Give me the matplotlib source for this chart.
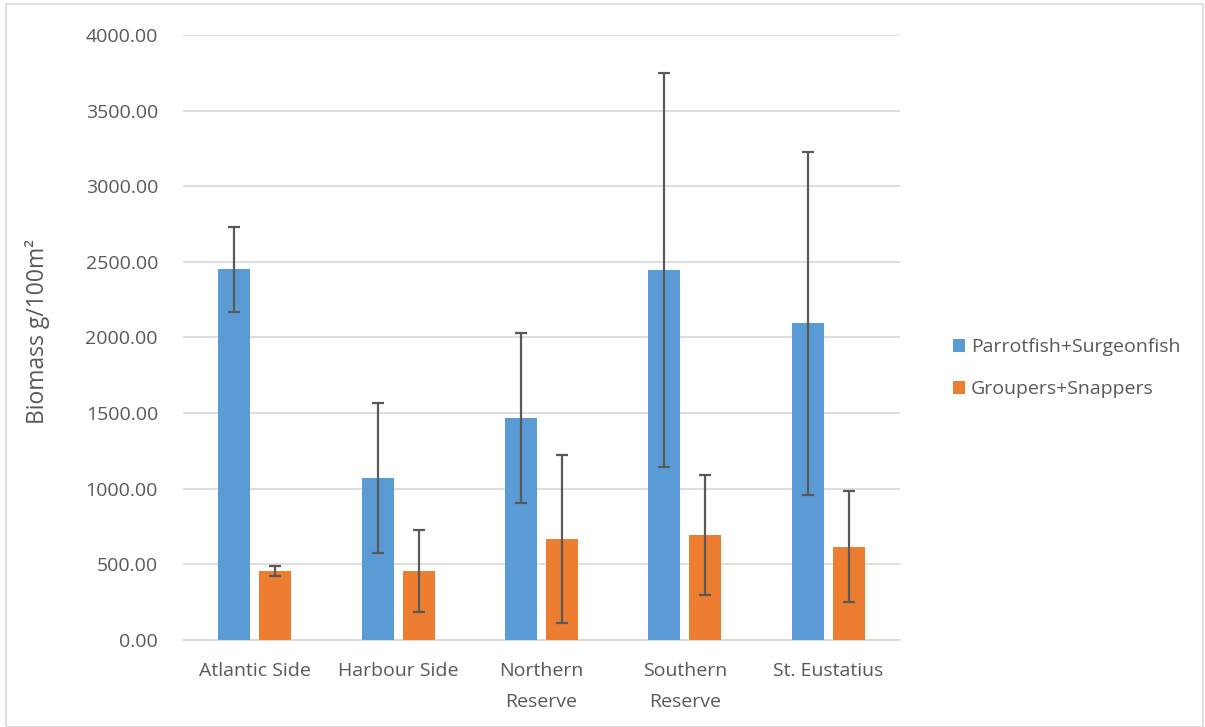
import numpy as np
import matplotlib.pyplot as plt
from matplotlib.patches import Rectangle

# data
sites = ["Atlantic Side", "Harbour Side", "Northern\nReserve", "Southern\nReserve", "St. Eustatius"]
herbivores = [2450, 1072, 1469, 2445, 2093]
herbivores_err = [280, 496, 563, 1303, 1133]
predators = [458, 457, 668, 694, 615]
predators_err = [34, 273, 555, 395, 367]
yticks = [0, 500, 1000, 1500, 2000, 2500, 3000, 3500, 4000]

plt.rcParams['font.family'] = ['Open Sans', 'DejaVu Sans']
grey = "#595959"
fs = 14

fig = plt.figure(figsize=(12.05, 7.27), dpi=100)
ax = fig.add_axes([183/1205, 1 - 640/727, 717/1205, 605/727])

x = np.arange(len(sites))
w = 0.223
off = 0.143
err_kw = dict(ecolor=grey, elinewidth=1.6, capsize=4.3, capthick=1.6)

ax.bar(x - off, herbivores, w, yerr=herbivores_err, color="#5B9BD5",
       label="Parrotfish+Surgeonfish", error_kw=err_kw, zorder=3)
ax.bar(x + off, predators, w, yerr=predators_err, color="#ED7D31",
       label="Groupers+Snappers", error_kw=err_kw, zorder=3)

ax.set_xlim(-0.5, len(sites) - 0.5)
ax.set_ylim(0, 4000)
ax.set_yticks(yticks)
ax.set_yticklabels([f"{v:.2f}" for v in yticks], fontsize=fs, color=grey)
ax.set_xticks(x)
ax.set_xticklabels(sites, fontsize=fs, color=grey, linespacing=1.9)
ax.tick_params(axis="y", length=0, pad=18)
ax.tick_params(axis="x", length=0, pad=16)
ax.yaxis.grid(True, color="#d9d9d9", lw=1.2, zorder=0)
for s in ["top", "right", "left"]:
    ax.spines[s].set_visible(False)
ax.spines["bottom"].set_color("#d9d9d9")
ax.spines["bottom"].set_linewidth(1.2)

ax.set_ylabel("Biomass g/100m²", fontsize=16.5, color=grey)
ax.yaxis.set_label_coords(-0.186, 0.51)

ax.legend(loc="center left", bbox_to_anchor=((935 - 183) / 717, (640 - 368) / 605),
          frameon=False, fontsize=fs, labelcolor=grey, handlelength=0.65,
          handleheight=0.65, handletextpad=0.3, labelspacing=1.25)

fig.patches.append(Rectangle((6/1205, 0), 1197/1205, 723/727, transform=fig.transFigure,
                             fill=False, edgecolor="#d9d9d9", lw=1.2))

fig.savefig("out.png", dpi=100)
